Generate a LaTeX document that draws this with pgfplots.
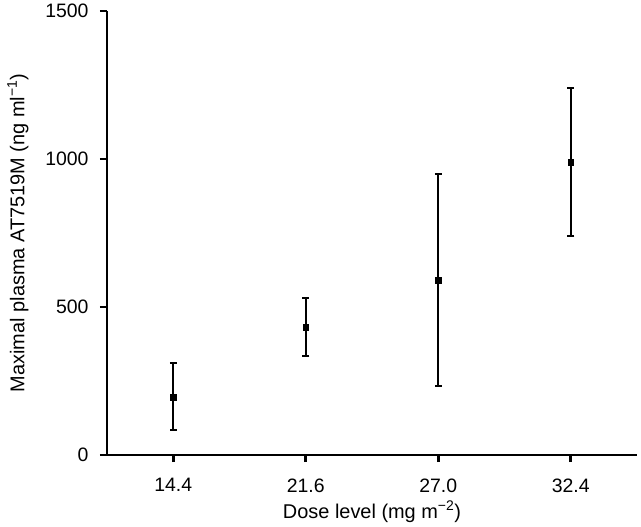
\documentclass[border=0pt]{standalone}
\usepackage{fontspec}
\setmainfont{Liberation Sans}
\usepackage{pgfplots}
\pgfplotsset{compat=1.18}
\usetikzlibrary{calc}
\begin{document}
\begin{tikzpicture}
\begin{axis}[
 scale only axis, width=530bp, height=444bp,
 xmin=-0.5, xmax=3.5, ymin=0, ymax=1500,
 axis x line*=bottom, axis y line*=left,
 axis line style={line width=2.8bp, -},
 xtick={0,1,2,3}, xticklabels={14.4,21.6,27.0,32.4},
 ytick={0,500,1000,1500},
 tick align=outside, major tick length=7bp,
 tick style={line width=2.6bp, black},
 every tick label/.append style={font=\fontsize{19.5}{21}\selectfont},
 xticklabel style={yshift=-13bp},
 yticklabel style={xshift=-8bp},
 /pgf/number format/assume math mode=true,
 /pgf/number format/1000 sep={},
 label style={font=\fontsize{20}{22}\selectfont},
 ylabel={Maximal plasma AT7519M (ng ml\textsuperscript{−1})},
 xlabel={Dose level (mg m\textsuperscript{−2})},
 ylabel style={at={(axis description cs:-0.168,0.5)}, anchor=center},
 xlabel style={at={(axis description cs:0.5,-0.128)}, anchor=center},
 clip=false,
]
\addplot[black, only marks, mark=square*, mark size=2.8bp,
  error bars/.cd, y dir=both, y explicit,
  error bar style={line width=2.2bp, black},
  error mark options={rotate=90, mark size=3.5bp, line width=2bp, black}]
  table[x=x, y=y, y error plus=ep, y error minus=em] {
x y ep em
0 196 115 112
1 432 98 98
2 591 358 358
3 990 250 250
};
\end{axis}
\pgfresetboundingbox
\path[use as bounding box] ($(current axis.south west)+(-107bp,-71bp)$) rectangle ($(current axis.north east)+(4bp,11bp)$);
\end{tikzpicture}
\end{document}
